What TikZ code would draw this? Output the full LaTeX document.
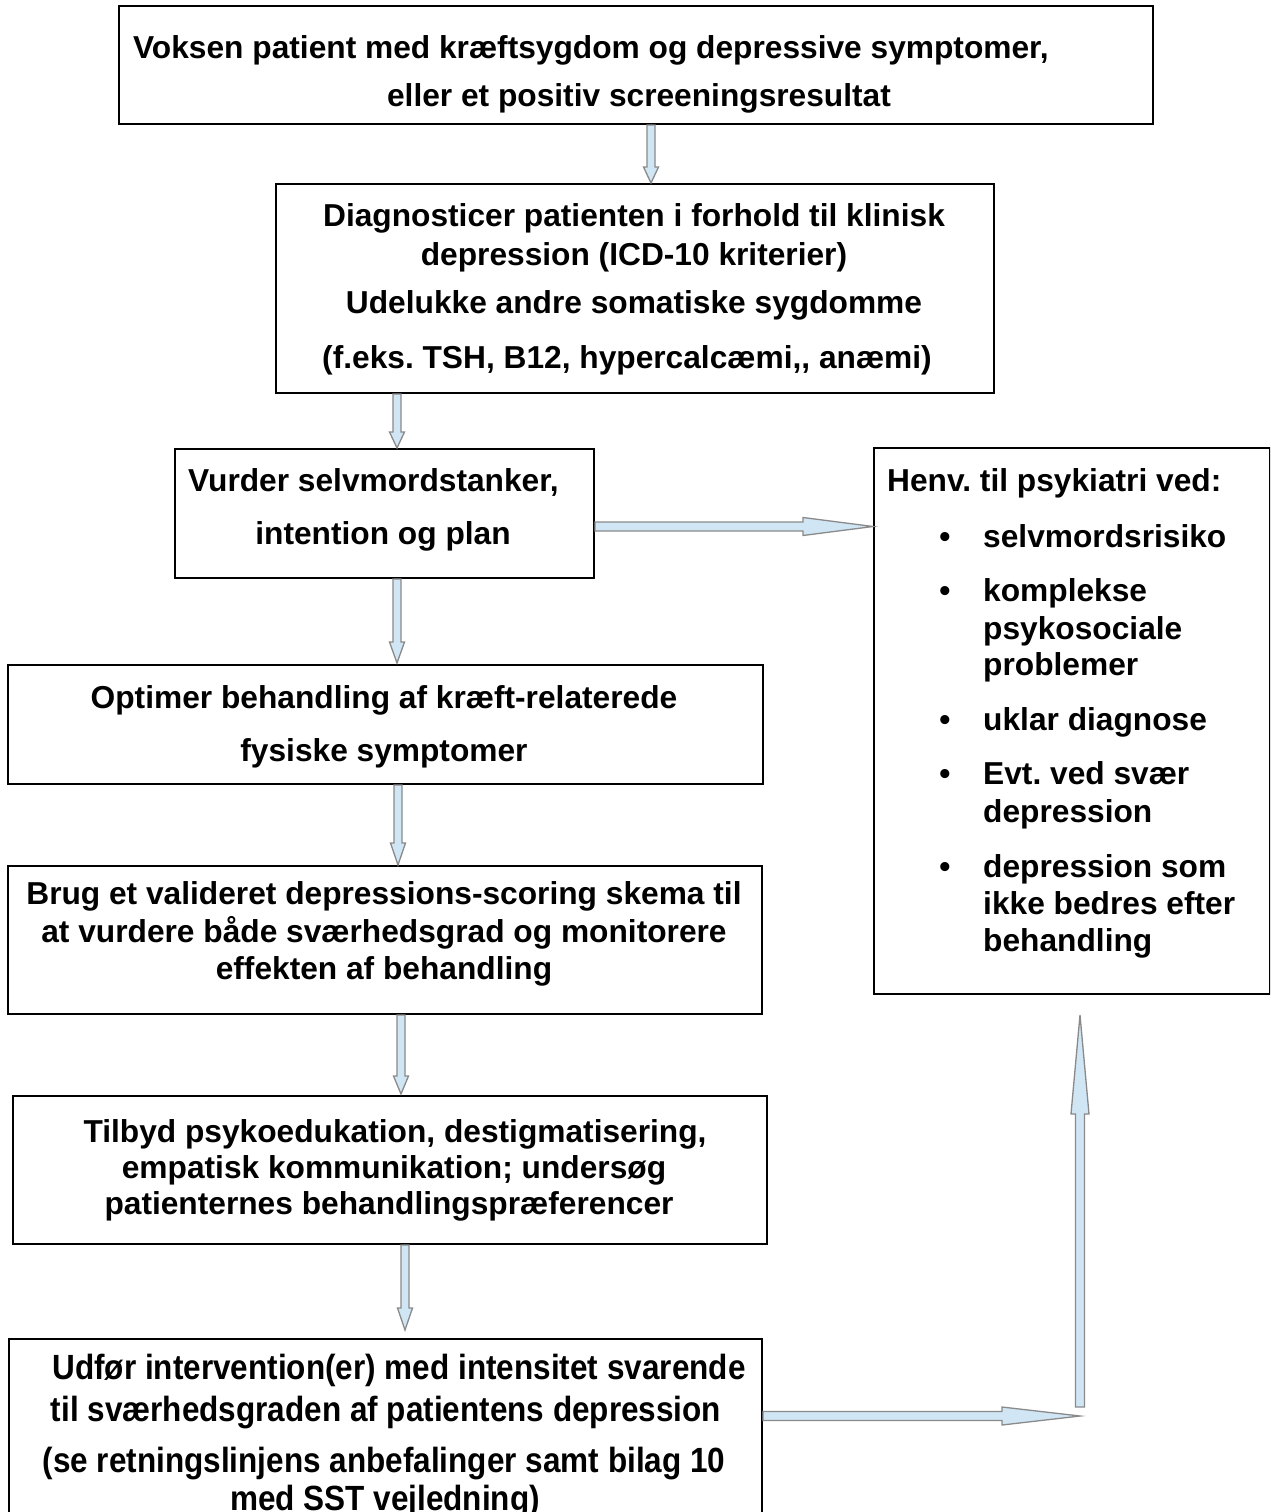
\documentclass[tikz,border=0pt]{standalone}
\usepackage{fontspec}
\usepackage{graphicx}
\setmainfont{Liberation Sans}
\frenchspacing
\definecolor{arrgray}{HTML}{8A8A8A}
\definecolor{arrblue}{HTML}{D0E6F5}
\tikzset{
  box/.style={draw=black, line width=2pt, anchor=north west, inner sep=0pt},
  txt/.style={font=\fontsize{31.7}{38}\selectfont\bfseries, inner sep=0pt, anchor=base},
  txtl/.style={txt, anchor=base west},
  txtn/.style={font=\fontsize{35}{40}\selectfont\bfseries, inner sep=0pt, anchor=base},
  blk/.style={draw=arrgray, fill=arrblue, line width=1.3pt, line join=miter},
}
\newcommand\arrdown[3]{\filldraw[blk] ([xshift=-4pt]#1) -- ([xshift=-4pt,yshift=#3]#2) -- ([xshift=-7.5pt,yshift=#3]#2) -- (#2) -- ([xshift=7.5pt,yshift=#3]#2) -- ([xshift=4pt,yshift=#3]#2) -- ([xshift=4pt]#1) -- cycle;}
\newcommand\arrright[3]{\filldraw[blk] ([yshift=4.5pt]#1) -- ([xshift=-#3,yshift=4.5pt]#2) -- ([xshift=-#3,yshift=9pt]#2) -- (#2) -- ([xshift=-#3,yshift=-9pt]#2) -- ([xshift=-#3,yshift=-4.5pt]#2) -- ([yshift=-4.5pt]#1) -- cycle;}
\newcommand\arrup[3]{\filldraw[blk] ([xshift=-4.5pt]#1) -- ([xshift=-4.5pt,yshift=-#3]#2) -- ([xshift=-9pt,yshift=-#3]#2) -- (#2) -- ([xshift=9pt,yshift=-#3]#2) -- ([xshift=4.5pt,yshift=-#3]#2) -- ([xshift=4.5pt]#1) -- cycle;}
\begin{document}
\begin{tikzpicture}[x=1pt,y=-1pt]
\clip (0,0) rectangle (1270,1512);
\fill[white] (0,0) rectangle (1270,1512);
% boxes
\node[box, minimum width=1034pt, minimum height=118pt] (b1) at (118,5) {};
\node[box, minimum width=718pt, minimum height=209pt] (b2) at (275,183) {};
\node[box, minimum width=419pt, minimum height=129pt] (b3) at (174,448) {};
\node[box, minimum width=396pt, minimum height=546pt] (br) at (873,447) {};
\node[box, minimum width=755pt, minimum height=119pt] (b4) at (7,664) {};
\node[box, minimum width=754pt, minimum height=148pt] (b5) at (7,865) {};
\node[box, minimum width=754pt, minimum height=148pt] (b6) at (12,1095) {};
\node[box, minimum width=753pt, minimum height=222pt] (b7) at (8,1338) {};
% texts
\node[txtl] (t11) at (133,59) {Voksen patient med kræftsygdom og depressive symptomer,};
\node[txt] (t12) at (639,106) {eller et positiv screeningsresultat};
\node[txt] (t21) at (634,226) {Diagnosticer patienten i forhold til klinisk};
\node[txt] (t22) at (634,265) {depression (ICD-10 kriterier)};
\node[txt] (t23) at (634,313) {Udelukke andre somatiske sygdomme};
\node[txt] (t24) at (627,368) {(f.eks. TSH, B12, hypercalcæmi,{},{} anæmi)};
\node[txtl] (t31) at (188,491) {Vurder selvmordstanker,};
\node[txt] (t32) at (383,544) {intention og plan};
\node[txtl] (tr0) at (887,491) {Henv. til psykiatri ved:};
\foreach \y/\n in {547/1,601/2,730/3,784/4,877/5}{\node[txt] (bul\n) at (945,\y) {•};}
\node[txtl] (tr1) at (983,547) {selvmordsrisiko};
\node[txtl] (tr2) at (983,601) {komplekse};
\node[txtl] (tr3) at (983,639) {psykosociale};
\node[txtl] (tr4) at (983,675) {problemer};
\node[txtl] (tr5) at (983,730) {uklar diagnose};
\node[txtl] (tr6) at (983,784) {Evt. ved svær};
\node[txtl] (tr7) at (983,822) {depression};
\node[txtl] (tr8) at (983,877) {depression som};
\node[txtl] (tr9) at (983,914) {ikke bedres efter};
\node[txtl] (tr10) at (983,951) {behandling};
\node[txt] (t41) at (384,708) {Optimer behandling af kræft-relaterede};
\node[txt] (t42) at (384,761) {fysiske symptomer};
\node[txt] (t51) at (384,904) {Brug et valideret depressions-scoring skema til};
\node[txt] (t52) at (384,942) {at vurdere både sværhedsgrad og monitorere};
\node[txt] (t53) at (384,979) {effekten af behandling};
\node[txt] (t61) at (395,1142) {Tilbyd psykoedukation, destigmatisering,};
\node[txt] (t62) at (394,1178) {empatisk kommunikation; undersøg};
\node[txt] (t63) at (389,1214) {patienternes behandlingspræferencer};
\node[txtn] (t71) at (399,1379) {\scalebox{0.9}[1]{Udfør intervention(er) med intensitet svarende}};
\node[txtn] (t72) at (386,1421) {\scalebox{0.9}[1]{til sværhedsgraden af patientens depression}};
\node[txtn] (t73) at (384,1472) {\scalebox{0.9}[1]{(se retningslinjens anbefalinger samt bilag 10}};
\node[txtn] (t74) at (385,1510) {\scalebox{0.9}[1]{med SST vejledning)}};
% arrow coordinates
\coordinate (a1s) at ([xshift=15pt]b1.south);
\coordinate (a1e) at (a1s |- b2.north);
\coordinate (a2s) at ([xshift=122pt]b2.south west);
\coordinate (a2e) at (a2s |- b3.north);
\coordinate (a3s) at ([yshift=-13pt]b3.east);
\coordinate (a3e) at (a3s -| br.west);
\coordinate (a4s) at ([xshift=223pt]b3.south west);
\coordinate (a4e) at ([yshift=1pt]a4s |- b4.north);
\coordinate (a5s) at ([xshift=391pt]b4.south west);
\coordinate (a5e) at (a5s |- b5.north);
\coordinate (a6s) at ([xshift=394pt]b5.south west);
\coordinate (a6e) at ([yshift=1pt]a6s |- b6.north);
\coordinate (a7s) at ([xshift=393pt]b6.south west);
\coordinate (a7e) at ([yshift=8pt]a7s |- b7.north);
\coordinate (a8s) at ([yshift=-78pt]b7.north east);
\coordinate (a9e) at ([xshift=207pt,yshift=-20pt]br.south west);
\coordinate (a8e) at (a9e |- a8s);
\coordinate (a9s) at ([yshift=9pt]a8e);
% arrows
\arrdown{a1s}{a1e}{16pt}
\arrdown{a2s}{a2e}{16pt}
\arrright{a3s}{a3e}{70pt}
\arrdown{a4s}{a4e}{21pt}
\arrdown{a5s}{a5e}{22pt}
\arrdown{a6s}{a6e}{18pt}
\arrdown{a7s}{a7e}{22pt}
\arrright{a8s}{a8e}{78pt}
\arrup{a9s}{a9e}{99pt}
\end{tikzpicture}
\end{document}
